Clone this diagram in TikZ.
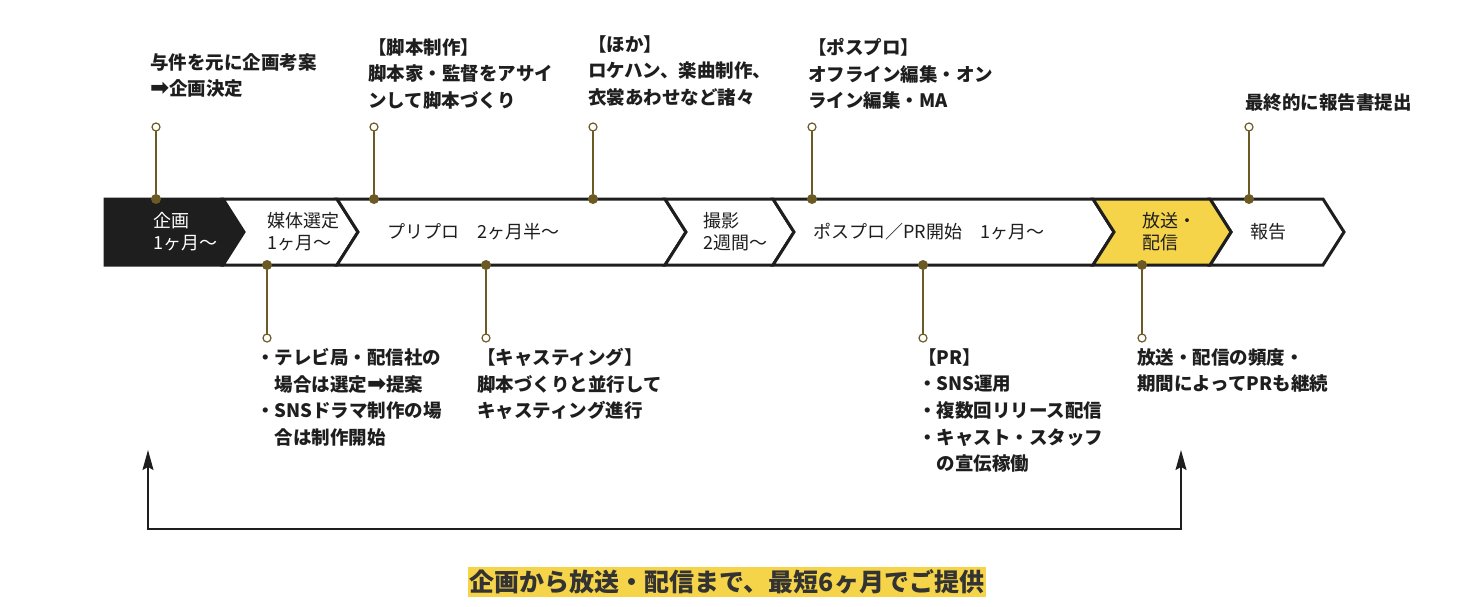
\documentclass[tikz,border=0pt]{standalone}
\usepackage{fontspec}
\setmainfont{Noto Sans CJK JP}
\newfontfamily\symfont{DejaVu Sans}
\usetikzlibrary{arrows.meta}
\definecolor{pinbrown}{HTML}{6B5A23}
\definecolor{hlyellow}{HTML}{F6D44A}
\definecolor{inkblack}{HTML}{1E1E1E}
\definecolor{catchgray}{HTML}{333333}
\newcommand{\goarrow}{{\symfont\bfseries\fontsize{23}{23}\selectfont ➡}}
\tikzset{
  phase/.style={draw=inkblack, line width=3pt, line join=miter},
  phaselabel/.style={anchor=west, align=left, inner sep=0pt, font=\fontsize{18}{22}\selectfont, text=inkblack},
  note/.style={anchor=north west, align=left, inner sep=0pt, font=\bfseries\fontsize{18.5}{26.7}\selectfont, text=inkblack},
  pinhead/.style={circle, draw=pinbrown, fill=white, line width=1.2pt, inner sep=0pt, minimum size=8pt},
  pinfoot/.style={circle, fill=pinbrown, inner sep=0pt, minimum size=10pt},
  pinline/.style={pinbrown, line width=1.5pt},
}
\begin{document}
\begin{tikzpicture}[x=1pt,y=-1pt,>={Stealth[length=20pt,width=11pt,inset=3pt]},line cap=round]
  \useasboundingbox (0,0) rectangle (1480,606);

  % 工程の矢羽根
  \draw[phase, fill=inkblack] (105,199) -- (223,199) -- (244,232) -- (223,265) -- (105,265) -- cycle;
  \foreach \a/\b in {223/337, 337/665, 665/773, 773/1093, 1210/1323}
    \draw[phase, fill=white] (\a,199) -- (\b,199) -- (\b+21,232) -- (\b,265) -- (\a,265) -- (\a+21,232) -- cycle;
  \draw[phase, fill=hlyellow] (1093,199) -- (1210,199) -- (1231,232) -- (1210,265) -- (1093,265) -- (1114,232) -- cycle;

  % 工程名
  \node[phaselabel, text=white] (kikaku) at (153,232) {企画\\1ヶ月〜};
  \node[phaselabel] (baitai) at (267,232) {媒体選定\\1ヶ月〜};
  \node[phaselabel] (puripuro) at (387,232) {プリプロ　2ヶ月半〜};
  \node[phaselabel] (satsuei) at (703,232) {撮影\\2週間〜};
  \node[phaselabel] (posupuro) at (813,232) {ポスプロ／PR開始　1ヶ月〜};
  \node[phaselabel] (housou) at (1142,232) {放送・\\配信};
  \node[phaselabel] (houkoku) at (1250,232) {報告};

  % 上側のピン
  \foreach \x [count=\i] in {156,374,593,812,1249} {
    \node[pinhead] (uhead\i) at (\x,127) {};
    \node[pinfoot] (ufoot\i) at (\x,199) {};
    \draw[pinline] (uhead\i) -- (ufoot\i);
  }

  % 下側のピン
  \foreach \x [count=\i] in {267,486,923,1142} {
    \node[pinfoot] (sfoot\i) at (\x,265) {};
    \node[pinhead] (shead\i) at (\x,338) {};
    \draw[pinline] (sfoot\i) -- (shead\i);
  }

  % 上側の説明
  \node[note] (noteplan) at (150,53) {与件を元に企画考案\\\goarrow 企画決定};
  \node[note] (notescript) at (368,38) {【脚本制作】\\脚本家・監督をアサイ\\ンして脚本づくり};
  \node[note] (noteother) at (588,35) {【ほか】\\ロケハン、楽曲制作、\\衣裳あわせなど諸々};
  \node[note] (notepost) at (808,38) {【ポスプロ】\\オフライン編集・オン\\ライン編集・MA};
  \node[note] (notereport) at (1245,93) {最終的に報告書提出};

  % 下側の説明
  \node[note] (notemedia) at (256,348) {・テレビ局・配信社の\\　場合は選定\goarrow 提案\\・SNSドラマ制作の場\\　合は制作開始};
  \node[note] (notecast) at (477,348) {【キャスティング】\\脚本づくりと並行して\\キャスティング進行};
  \node[note] (notepr) at (918,348) {【PR】\\・SNS運用\\・複数回リリース配信\\・キャスト・スタッフ\\　の宣伝稼働};
  \node[note] (noteair) at (1137,348) {放送・配信の頻度・\\期間によってPRも継続};

  % 期間の矢印
  \coordinate (loopL) at (148,450);
  \coordinate (loopB) at (148,529);
  \coordinate (loopR) at (1181,450);
  \draw[<->, inkblack, line width=1.4pt] (loopL) -- (loopB) -| (loopR);

  % まとめ
  \node[fill=hlyellow, inner xsep=2pt, inner ysep=3pt, text=catchgray, font=\bfseries\fontsize{25}{25}\selectfont] (catch) at (727,582) {企画から放送・配信まで、最短6ヶ月でご提供};
\end{tikzpicture}
\end{document}
